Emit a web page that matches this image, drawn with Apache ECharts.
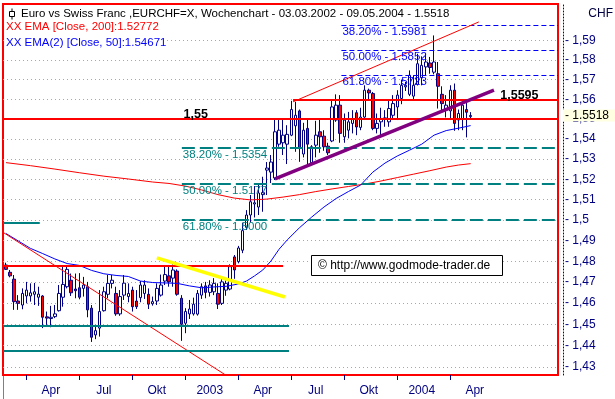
<!DOCTYPE html>
<html>
<head>
<meta charset="utf-8">
<script src="https://cdn.jsdelivr.net/npm/echarts@6/dist/echarts.min.js"></script>
<style>
  html, body { margin: 0; padding: 0; background: #fff; }
  #chart { width: 615px; height: 399px; }
</style>
</head>
<body>
<div id="chart"></div>
<script>
// EURCHF weekly candles, first week starts 25.02.2002
var firstWeek = '2002-02-25';
var opens = [
  1.4782, 1.4747, 1.4714, 1.4610, 1.4591, 1.4634, 1.4634, 1.4642, 1.4628, 1.4634,
  1.4535, 1.4527, 1.4536, 1.4564, 1.4628, 1.4678, 1.4709, 1.4667, 1.4673, 1.4670,
  1.4678, 1.4576, 1.4450, 1.4482, 1.4564, 1.4642, 1.4694, 1.4646, 1.4549, 1.4638,
  1.4631, 1.4662, 1.4610, 1.4626, 1.4646, 1.4642, 1.4597, 1.4610, 1.4638, 1.4705,
  1.4730, 1.4719, 1.4753, 1.4623, 1.4505, 1.4549, 1.4549, 1.4548, 1.4638, 1.4682,
  1.4651, 1.4654, 1.4646, 1.4599, 1.4662, 1.4667, 1.4821, 1.4798, 1.4853, 1.4964,
  1.5024, 1.5078, 1.5063, 1.5124, 1.5245, 1.5235, 1.5206, 1.5374, 1.5381, 1.5374,
  1.5419, 1.5466, 1.5541, 1.5325, 1.5453, 1.5281, 1.5369, 1.5436, 1.5414, 1.5364,
  1.5390, 1.5495, 1.5570, 1.5411, 1.5444, 1.5478, 1.5532, 1.5458, 1.5510, 1.5646,
  1.5629, 1.5453, 1.5486, 1.5498, 1.5486, 1.5519, 1.5561, 1.5604, 1.5663, 1.5625,
  1.5616, 1.5676, 1.5710, 1.5765, 1.5785, 1.5738, 1.5730, 1.5625, 1.5545, 1.5541,
  1.5646, 1.5495, 1.5498, 1.5548, 1.5512
];
var closes = [
  1.4761, 1.4730, 1.4607, 1.4599, 1.4646, 1.4662, 1.4649, 1.4654, 1.4643, 1.4533,
  1.4529, 1.4533, 1.4549, 1.4646, 1.4689, 1.4761, 1.4649, 1.4659, 1.4628, 1.4686,
  1.4568, 1.4439, 1.4470, 1.4560, 1.4654, 1.4694, 1.4709, 1.4549, 1.4631, 1.4695,
  1.4646, 1.4583, 1.4583, 1.4686, 1.4686, 1.4595, 1.4607, 1.4670, 1.4686, 1.4736,
  1.4701, 1.4758, 1.4642, 1.4500, 1.4560, 1.4572, 1.4595, 1.4646, 1.4678, 1.4651,
  1.4686, 1.4694, 1.4595, 1.4701, 1.4694, 1.4774, 1.4758, 1.4864, 1.4948, 1.5024,
  1.5089, 1.5084, 1.5132, 1.5134, 1.5255, 1.5285, 1.5436, 1.5444, 1.5419, 1.5423,
  1.5548, 1.5519, 1.5352, 1.5444, 1.5374, 1.5361, 1.5419, 1.5411, 1.5361, 1.5331,
  1.5561, 1.5570, 1.5428, 1.5495, 1.5486, 1.5503, 1.5460, 1.5510, 1.5646, 1.5632,
  1.5453, 1.5478, 1.5503, 1.5506, 1.5553, 1.5578, 1.5621, 1.5671, 1.5671, 1.5722,
  1.5671, 1.5781, 1.5773, 1.5790, 1.5762, 1.5790, 1.5666, 1.5578, 1.5570, 1.5646,
  1.5478, 1.5528, 1.5570, 1.5534, 1.5518
];
var lows = [
  1.4758, 1.4723, 1.4568, 1.4568, 1.4571, 1.4599, 1.4607, 1.4591, 1.4587, 1.4482,
  1.4497, 1.4486, 1.4529, 1.4560, 1.4583, 1.4670, 1.4634, 1.4623, 1.4618, 1.4631,
  1.4533, 1.4417, 1.4430, 1.4442, 1.4560, 1.4623, 1.4670, 1.4540, 1.4540, 1.4615,
  1.4604, 1.4560, 1.4572, 1.4604, 1.4620, 1.4572, 1.4588, 1.4591, 1.4631, 1.4686,
  1.4678, 1.4678, 1.4635, 1.4422, 1.4458, 1.4525, 1.4541, 1.4541, 1.4620, 1.4623,
  1.4631, 1.4638, 1.4572, 1.4591, 1.4635, 1.4661, 1.4716, 1.4790, 1.4839, 1.4951,
  1.4988, 1.5012, 1.5024, 1.5040, 1.5122, 1.5181, 1.5196, 1.5361, 1.5320, 1.5275,
  1.5414, 1.5336, 1.5286, 1.5308, 1.5270, 1.5278, 1.5308, 1.5331, 1.5341, 1.5320,
  1.5384, 1.5486, 1.5381, 1.5381, 1.5403, 1.5428, 1.5419, 1.5444, 1.5495, 1.5595,
  1.5444, 1.5428, 1.5419, 1.5461, 1.5461, 1.5495, 1.5495, 1.5575, 1.5642, 1.5616,
  1.5595, 1.5670, 1.5671, 1.5722, 1.5730, 1.5727, 1.5553, 1.5536, 1.5508, 1.5495,
  1.5441, 1.5444, 1.5444, 1.5408, 1.5497
];
var highs = [
  1.4793, 1.4758, 1.4734, 1.4638, 1.4670, 1.4701, 1.4694, 1.4696, 1.4678, 1.4638,
  1.4560, 1.4587, 1.4591, 1.4686, 1.4774, 1.4782, 1.4741, 1.4741, 1.4743, 1.4725,
  1.4701, 1.4591, 1.4497, 1.4662, 1.4678, 1.4734, 1.4734, 1.4678, 1.4662, 1.4734,
  1.4694, 1.4678, 1.4662, 1.4705, 1.4709, 1.4670, 1.4631, 1.4694, 1.4736, 1.4782,
  1.4782, 1.4785, 1.4761, 1.4638, 1.4576, 1.4615, 1.4626, 1.4662, 1.4694, 1.4701,
  1.4709, 1.4719, 1.4694, 1.4719, 1.4709, 1.4785, 1.4830, 1.4874, 1.4986, 1.5048,
  1.5122, 1.5166, 1.5176, 1.5212, 1.5285, 1.5320, 1.5499, 1.5503, 1.5495, 1.5469,
  1.5592, 1.5587, 1.5548, 1.5481, 1.5498, 1.5369, 1.5491, 1.5498, 1.5444, 1.5381,
  1.5599, 1.5625, 1.5621, 1.5528, 1.5536, 1.5545, 1.5545, 1.5557, 1.5671, 1.5654,
  1.5637, 1.5528, 1.5557, 1.5545, 1.5595, 1.5621, 1.5646, 1.5700, 1.5688, 1.5747,
  1.5722, 1.5832, 1.5819, 1.5832, 1.5816, 1.5927, 1.5790, 1.5666, 1.5621, 1.5671,
  1.5680, 1.5548, 1.5595, 1.5587, 1.5535
];

// EMA curves at selected weeks (index into weeks)
var ema200Weeks = [0, 6, 12, 18, 24, 30, 36, 40, 44, 48, 52, 56, 60, 64, 68, 72, 76, 80, 84, 88, 92, 96, 100, 104, 108, 111, 114];
var ema200 = [1.5282, 1.5267, 1.5250, 1.5232, 1.5215, 1.5201, 1.5186, 1.5179, 1.5166, 1.5147, 1.5124, 1.5107, 1.5098, 1.5102, 1.5112, 1.5124, 1.5139, 1.5152, 1.5164, 1.5176, 1.5191, 1.5208, 1.5225, 1.5242, 1.5260, 1.5270, 1.5277];
var ema50Weeks = [0, 3, 6, 9, 12, 15, 18, 21, 24, 27, 30, 33, 36, 39, 42, 45, 48, 51, 54, 57, 59, 61, 63, 65, 67, 69, 72, 75, 78, 81, 84, 87, 90, 93, 96, 99, 102, 105, 108, 111, 114];
var ema50 = [1.4934, 1.4898, 1.4862, 1.4837, 1.4811, 1.4789, 1.4780, 1.4756, 1.4740, 1.4732, 1.4727, 1.4705, 1.4698, 1.4696, 1.4694, 1.4682, 1.4673, 1.4677, 1.4680, 1.4691, 1.4705, 1.4730, 1.4758, 1.4801, 1.4858, 1.4903, 1.4962, 1.5014, 1.5063, 1.5105, 1.5139, 1.5171, 1.5235, 1.5280, 1.5315, 1.5344, 1.5374, 1.5419, 1.5442, 1.5454, 1.5467];

var yTicks = [1.43, 1.44, 1.45, 1.46, 1.47, 1.48, 1.49, 1.50, 1.51, 1.52, 1.53, 1.54, 1.55, 1.56, 1.57, 1.58, 1.59];
var quarterStarts = ['2002-04-01', '2002-07-01', '2002-09-30', '2002-12-30', '2003-03-31', '2003-06-30', '2003-09-29', '2003-12-29', '2004-03-29'];
var quarterLabelDates = ['2002-05-13', '2002-08-12', '2002-11-11', '2003-02-10', '2003-05-12', '2003-08-11', '2003-11-10', '2004-02-09', '2004-05-10'];
var quarterLabels = ['Apr', 'Jul', 'Okt', '2003', 'Apr', 'Jul', 'Okt', '2004', 'Apr'];

var fibNames = ['38.20%', '50.00%', '61.80%'];
var fibUpper = [1.5981, 1.5852, 1.5723];
var fibLower = [1.5354, 1.5177, 1.5000];
var lastClose = 1.5518;

var DAY = 86400000;
function toTime(s) { return Date.parse(s + 'T00:00:00Z'); }
var t0 = toTime(firstWeek);
var weeks = opens.map(function (o, i) { return t0 + i * 7 * DAY; });
var tickTimes = quarterStarts.map(toTime);
var labelTimes = quarterLabelDates.map(toTime);

// axis range
var xMin = t0 - 5.15 * DAY;
var xMax = t0 + 948 * DAY;
var yMin = 1.42629;
var yMax = 1.60905;
var xL = xMin + 60000, xR = xMax - 60000, yB = yMin * 1.00001;

var narrow = '"Liberation Sans Narrow", "Arial Narrow", "Liberation Sans", sans-serif';
var sans = '"Liberation Sans", Arial, sans-serif';

function seg(x1, y1, x2, y2, style) {
  return [{ coord: [x1, y1], lineStyle: style }, { coord: [x2, y2] }];
}

var red1 = { color: '#ff0000', width: 1, type: 'solid' };
var red2 = { color: '#ff0000', width: 2, type: 'solid' };
var teal2 = { color: '#008080', width: 2, type: 'solid' };

var trendLines = [
  seg(toTime('2003-07-03'), 1.5587, toTime('2004-05-17'), 1.5997, red1),
  seg(xL, 1.4940, toTime('2003-03-09'), yB, red1),
  seg(toTime('2003-07-03'), 1.5595, xR, 1.5595, red2),
  seg(xL, 1.55, xR, 1.55, red2),
  seg(xL, 1.478, toTime('2003-06-16'), 1.478, red2),
  seg(xL, 1.4988, toTime('2002-04-24'), 1.4988, teal2),
  seg(xL, 1.4493, toTime('2003-06-26'), 1.4493, teal2),
  seg(xL, 1.4375, toTime('2003-06-26'), 1.4375, teal2),
  seg(toTime('2002-11-11'), 1.4816, toTime('2003-06-19'), 1.4629, { color: '#ffff00', width: 3.5, type: 'solid' }),
  seg(toTime('2003-06-02'), 1.5201, toTime('2004-06-12'), 1.5646, { color: '#800080', width: 3.5, type: 'solid' })
];

var fibLines = [];
fibLower.forEach(function (v, k) {
  var item = seg(toTime('2002-12-24'), v, xR, v, { color: '#008080', width: 2, type: [13, 5] });
  item[0].label = { show: true, position: 'insideStartBottom', distance: 1, formatter: fibNames[k] + ' - ' + v.toFixed(4), color: '#008080', fontFamily: sans, fontSize: 11.5 };
  fibLines.push(item);
});
fibUpper.forEach(function (v, k) {
  var item = seg(toTime('2003-09-24'), v, xR, v, { color: '#0000ff', width: 1, type: [5, 3] });
  item[0].label = { show: true, position: 'insideStartBottom', distance: 1, formatter: fibNames[k] + ' - ' + v.toFixed(4), color: '#0000ff', fontFamily: sans, fontSize: 11.5 };
  fibLines.push(item);
});

var chart = echarts.init(document.getElementById('chart'), null, { renderer: 'canvas' });

var option = {
  animation: false,
  backgroundColor: '#ffffff',
  grid: { left: 3, top: 4, right: 57, bottom: 24, show: true, borderColor: '#ff0000', borderWidth: 2, backgroundColor: '#ffffff' },
  xAxis: {
    type: 'value', min: xMin, max: xMax,
    axisLine: { show: false },
    axisTick: { show: true, customValues: tickTimes, length: 5, lineStyle: { color: '#000080' } },
    axisLabel: {
      customValues: labelTimes,
      formatter: function (v) {
        var k = labelTimes.indexOf(v);
        return k >= 0 ? quarterLabels[k] : '';
      },
      color: '#000080', fontFamily: narrow, fontSize: 12, margin: 10
    },
    splitLine: { show: false }
  },
  yAxis: {
    type: 'log', logBase: 10, position: 'right', offset: 5,
    min: yMin, max: yMax,
    axisLine: { show: true, lineStyle: { color: '#000080', type: [1, 2] } },
    axisTick: { show: false, customValues: yTicks },
    axisLabel: {
      customValues: yTicks,
      formatter: function (v) { return '- ' + String(Math.round(v * 100) / 100).replace('.', ','); },
      color: '#000080', fontFamily: narrow, fontSize: 12, margin: 2
    },
    splitLine: { show: true, lineStyle: { color: '#a8a8a8', type: [1, 3] } },
    minorTick: { show: false }, minorSplitLine: { show: false }
  },
  series: [
    {
      type: 'line', name: 'fib', data: [], z: 1, silent: true,
      markLine: { symbol: ['none', 'none'], silent: true, animation: false, label: { show: false }, data: fibLines }
    },
    {
      type: 'candlestick', name: 'EURCHF', z: 3,
      data: weeks.map(function (t, i) { return [t, opens[i], closes[i], lows[i], highs[i]]; }),
      encode: { x: 0, y: [1, 2, 3, 4] },
      barWidth: 3,
      itemStyle: { color: '#ffffff', color0: '#ff0000', borderColor: '#000080', borderColor0: '#000080', borderWidth: 1 }
    },
    {
      type: 'line', name: 'EMA200', z: 4, silent: true, symbol: 'none',
      data: ema200Weeks.map(function (w, k) { return [weeks[w], ema200[k]]; }),
      lineStyle: { color: '#ff0000', width: 1 }
    },
    {
      type: 'line', name: 'EMA50', z: 4, silent: true, symbol: 'none',
      data: ema50Weeks.map(function (w, k) { return [weeks[w], ema50[k]]; }),
      lineStyle: { color: '#0000ff', width: 1 }
    },
    {
      type: 'line', name: 'lines', data: [], z: 5, silent: true, clip: false,
      markLine: { symbol: ['none', 'none'], silent: true, animation: false, label: { show: false }, data: trendLines.concat([
        [{ coord: [xL, lastClose], lineStyle: { color: 'rgba(0,0,0,0)', width: 1 },
           label: { show: true, position: 'end', distance: 5, formatter: '- 1.5518', color: '#000000', fontFamily: narrow, fontSize: 12,
                    backgroundColor: '#ffffe1', padding: [1, 0, 0, 2], width: 50, height: 11, lineHeight: 11 } },
         { coord: [xR, lastClose] }]
      ]) },
      markPoint: {
        symbol: 'rect', symbolSize: 1, silent: true, animation: false, itemStyle: { color: 'rgba(0,0,0,0)' },
        label: {
          show: true, position: 'right', distance: 0, color: '#000000', fontFamily: sans, fontSize: 12.5, fontWeight: 'bold', offset: [0, -5],
          formatter: function (p) { return p.name; }
        },
        data: [
          { coord: [toTime('2002-12-26'), 1.55], name: '1,55' },
          { coord: [toTime('2004-06-22'), 1.5595], name: '1,5595' }
        ]
      }
    }
  ],
  graphic: [
    { type: 'rect', shape: { x: 9.5, y: 11.5, width: 5, height: 5 }, style: { fill: '#ffffff', stroke: '#000000', lineWidth: 1 }, z: 10 },
    { type: 'line', shape: { x1: 12, y1: 8.5, x2: 12, y2: 11.5 }, style: { stroke: '#000000', lineWidth: 1 }, z: 10 },
    { type: 'line', shape: { x1: 12, y1: 16.5, x2: 12, y2: 19.5 }, style: { stroke: '#000000', lineWidth: 1 }, z: 10 },
    { type: 'text', x: 21, y: 14, z: 10, style: { text: 'Euro vs Swiss Franc ,EURCHF=X, Wochenchart - 03.03.2002 - 09.05.2004 - 1.5518', fill: '#000000', font: '11.5px ' + sans, verticalAlign: 'middle', backgroundColor: '#ffffff' } },
    { type: 'text', x: 6, y: 27, z: 10, style: { text: 'XX EMA [Close, 200]:1.52772', fill: '#ff0000', font: '11.5px ' + sans, verticalAlign: 'middle', backgroundColor: '#ffffff' } },
    { type: 'text', x: 6, y: 43, z: 10, style: { text: 'XX EMA(2) [Close, 50]:1.54671', fill: '#0000ff', font: '11.5px ' + sans, verticalAlign: 'middle', backgroundColor: '#ffffff' } },
    { type: 'text', x: 613, y: 14, z: 10, style: { text: 'CHF', fill: '#000040', font: '12px ' + narrow, align: 'right', verticalAlign: 'middle' } },
    { type: 'rect', shape: { x: 311.5, y: 255.5, width: 191, height: 20 }, style: { fill: '#ffffff', stroke: '#000000', lineWidth: 1 }, z: 10 },
    { type: 'text', x: 318, y: 266, z: 11, style: { text: '\u00a9 http://www.godmode-trader.de', fill: '#000000', font: '12px ' + sans, verticalAlign: 'middle' } },
    { type: 'line', shape: { x1: 3.5, y1: 376, x2: 3.5, y2: 399 }, style: { stroke: '#808080', lineWidth: 1 }, z: 10 }
  ]
};

chart.setOption(option);
</script>
</body>
</html>
